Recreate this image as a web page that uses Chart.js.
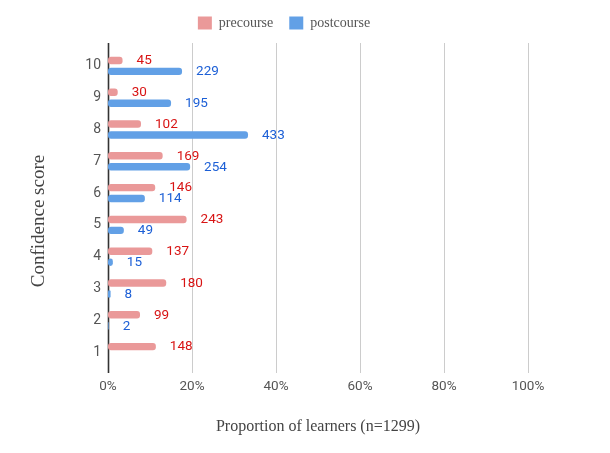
<!DOCTYPE html>
<html>
<head>
<meta charset="utf-8">
<script src="https://cdn.jsdelivr.net/npm/chart.js@4"></script>
<style>
  html, body { margin: 0; padding: 0; background: #ffffff; }
  #wrap { width: 610px; height: 453px; }
</style>
</head>
<body>
<div id="wrap"><canvas id="barChart"></canvas></div>
<script>
// Chart data (counts of learners per confidence score)
const scores = ["10", "9", "8", "7", "6", "5", "4", "3", "2", "1"];
const precourseCounts = [45, 30, 102, 169, 146, 243, 137, 180, 99, 148];
const postcourseCounts = [229, 195, 433, 254, 114, 49, 15, 8, 2, 0];
const totalLearners = 1299;
const xTicks = [0, 20, 40, 60, 80, 100];

const toPercent = counts => counts.map(c => c / totalLearners * 100);

// Pushes the chart area down a bit below the legend
const legendSpacer = {
    id: "legendSpacer",
    beforeInit(chart) {
        const origFit = chart.legend.fit;
        chart.legend.fit = function () {
            origFit.call(this);
            this.height += 10;
        };
    }
};

// Vertical gridlines, running slightly past the plot area like the original
const gridLines = {
    id: "gridLines",
    beforeDatasetsDraw(chart) {
        const { ctx, chartArea, scales } = chart;
        ctx.save();
        xTicks.forEach(t => {
            const x = Math.round(scales.x.getPixelForValue(t)) + 0.5;
            ctx.beginPath();
            ctx.strokeStyle = t === 0 ? "#333333" : "#cccccc";
            ctx.lineWidth = t === 0 ? 1.6 : 1;
            ctx.moveTo(x, chartArea.top - 7);
            ctx.lineTo(x, chartArea.bottom + 5);
            ctx.stroke();
        });
        ctx.restore();
    }
};

// Count labels to the right of each bar
const countLabels = {
    id: "countLabels",
    afterDatasetsDraw(chart) {
        const { ctx } = chart;
        const sources = [precourseCounts, postcourseCounts];
        const colors = ["#d81414", "#1c5fd6"];
        ctx.save();
        ctx.font = "13.5px Roboto";
        ctx.textAlign = "left";
        ctx.textBaseline = "middle";
        chart.data.datasets.forEach((ds, i) => {
            const meta = chart.getDatasetMeta(i);
            meta.data.forEach((bar, j) => {
                const count = sources[i][j];
                if (!count) return;
                ctx.fillStyle = colors[i];
                ctx.fillText(String(count), bar.x + 14, bar.y + 0.5);
            });
        });
        ctx.restore();
    }
};

// Rotated y-axis title
const yTitle = {
    id: "yTitle",
    afterDraw(chart) {
        const { ctx } = chart;
        ctx.save();
        ctx.translate(39, 221);
        ctx.rotate(-Math.PI / 2);
        ctx.font = "19px 'Liberation Serif'";
        ctx.fillStyle = "#444444";
        ctx.textAlign = "center";
        ctx.textBaseline = "middle";
        ctx.fillText("Confidence score", 0, 0);
        ctx.restore();
    }
};

const ctx = document.getElementById("barChart").getContext("2d");
const barChart = new Chart(ctx, {
    type: "bar",
    data: {
        labels: scores,
        datasets: [{
            label: "precourse",
            data: toPercent(precourseCounts),
            backgroundColor: "#ea9999",
            borderWidth: 0,
            borderRadius: 3,
            borderSkipped: false,
            categoryPercentage: 0.69,
            barPercentage: 0.68
        }, {
            label: "postcourse",
            data: toPercent(postcourseCounts),
            backgroundColor: "#62a0e6",
            borderWidth: 0,
            borderRadius: 3,
            borderSkipped: false,
            categoryPercentage: 0.69,
            barPercentage: 0.68
        }]
    },
    options: {
        indexAxis: "y",
        responsive: true,
        maintainAspectRatio: false,
        animation: false,
        layout: {
            padding: { left: 40, right: 82, top: 0, bottom: 0 }
        },
        plugins: {
            legend: {
                position: "top",
                labels: {
                    boxWidth: 14,
                    boxHeight: 13,
                    padding: 16,
                    color: "#555555",
                    font: { family: "'Liberation Serif'", size: 14 }
                }
            },
            tooltip: { enabled: false }
        },
        scales: {
            x: {
                min: 0,
                max: 100,
                afterBuildTicks: scale => {
                    scale.ticks = xTicks.map(v => ({ value: v }));
                },
                afterFit: scale => { scale.height = 85; },
                grid: { display: false, drawTicks: false, tickLength: 0 },
                border: { display: false },
                ticks: {
                    padding: 11,
                    color: "#555555",
                    font: { family: "Roboto", size: 13.5 },
                    callback: v => v + "%"
                },
                title: {
                    display: true,
                    text: "Proportion of learners (n=1299)",
                    color: "#444444",
                    font: { family: "'Liberation Serif'", size: 16 },
                    padding: { top: 0, bottom: 17 }
                }
            },
            y: {
                afterFit: scale => { scale.width = 68; },
                grid: { display: false, drawTicks: false, tickLength: 0 },
                border: { display: false },
                ticks: {
                    padding: 7,
                    color: "#555555",
                    font: { family: "Roboto", size: 14 }
                }
            }
        }
    },
    plugins: [legendSpacer, gridLines, countLabels, yTitle]
});
</script>
</body>
</html>
